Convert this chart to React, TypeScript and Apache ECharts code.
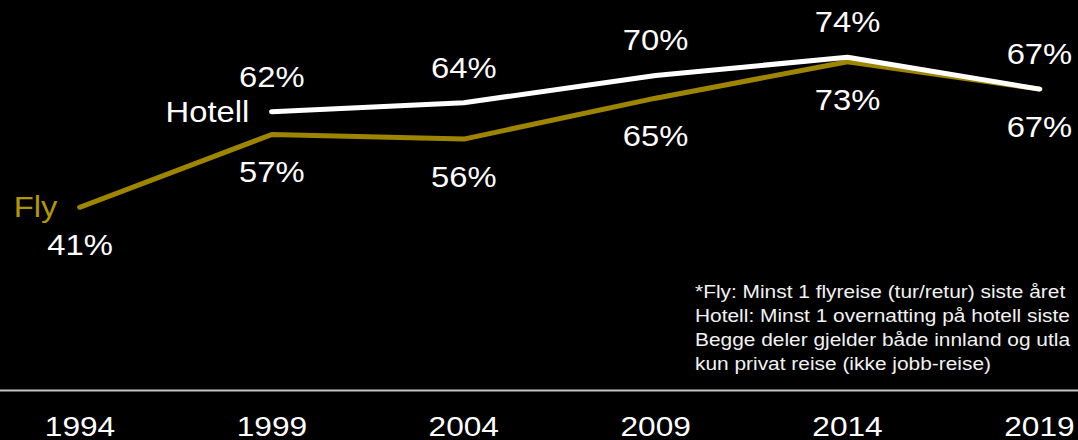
import React, { useEffect, useRef } from "react";
import * as echarts from "echarts";

const years = ["1994", "1999", "2004", "2009", "2014", "2019"];
const fly = [41, 57, 56, 65, 73, 67];
const hotell = [null, 62, 64, 70, 74, 67];
const footnote = [
  "*Fly: Minst 1 flyreise (tur/retur) siste året",
  "Hotell: Minst 1 overnatting på hotell siste",
  "Begge deler gjelder både innland og utla",
  "kun privat reise (ikke jobb-reise)",
];

const GOLD = "#9e8500";
const FONT = '"Liberation Sans", Arial, sans-serif';
// the reference text is horizontally stretched; render narrower and stretch with CSS
const SX = 1.13;
const W = 1078 / SX;
const H = 440;

export default function App() {
  const ref = useRef<HTMLDivElement>(null);
  useEffect(() => {
    if (!ref.current) return;
    const chart = echarts.init(ref.current, null, { renderer: "svg", width: W, height: H });
    const labelBase = {
      show: true,
      position: "inside",
      color: "#ffffff",
      fontSize: 29,
      fontFamily: FONT,
      formatter: (p: any) => `${p.value}%`,
    };
    chart.setOption({
      animation: false,
      backgroundColor: "#000000",
      textStyle: { fontFamily: FONT },
      grid: { left: 80 / SX, right: 36 / SX, top: 0, bottom: 49.5 },
      xAxis: {
        type: "category",
        data: years,
        boundaryGap: false,
        axisLine: { show: false },
        axisTick: { show: false },
        splitLine: { show: false },
        axisLabel: { color: "#ffffff", fontSize: 28, fontFamily: FONT, margin: 22 },
      },
      yAxis: { type: "value", min: 0.8, max: 86.6, show: false, splitLine: { show: false } },
      graphic: [
        {
          type: "line",
          shape: { x1: 0, y1: 390.5, x2: W, y2: 390.5 },
          style: { stroke: "#c4c4c4", lineWidth: 2 },
          silent: true,
        },
        {
          type: "text",
          x: 695 / SX,
          y: 279,
          style: {
            text: footnote.join("\n"),
            fill: "#f2f2f2",
            fontSize: 18.5,
            lineHeight: 24,
            fontFamily: FONT,
          },
          silent: true,
        },
      ],
      series: [
        {
          name: "Fly",
          type: "line",
          data: fly,
          showSymbol: true,
          symbol: "circle",
          symbolSize: 2,
          itemStyle: { color: GOLD },
          lineStyle: { color: GOLD, width: 5, cap: "round", join: "round" },
          label: { ...labelBase, offset: [0, 38] },
          markPoint: {
            symbol: "circle",
            symbolSize: 1,
            itemStyle: { color: "rgba(0,0,0,0)" },
            data: [{ coord: [years[0], fly[0]], value: fly[0] }],
            label: {
              show: true,
              position: "left",
              distance: 19.5,
              color: "#b39700",
              fontSize: 29,
              fontFamily: FONT,
              formatter: (p: any) => p.seriesName,
            },
          },
          z: 2,
        },
        {
          name: "Hotell",
          type: "line",
          data: hotell,
          showSymbol: true,
          symbol: "circle",
          symbolSize: 2,
          itemStyle: { color: "#ffffff" },
          lineStyle: { color: "#ffffff", width: 5, cap: "round", join: "round" },
          label: { ...labelBase, offset: [0, -35] },
          markPoint: {
            symbol: "circle",
            symbolSize: 1,
            itemStyle: { color: "rgba(0,0,0,0)" },
            data: [{ coord: [years[1], hotell[1]], value: hotell[1] }],
            label: {
              show: true,
              position: "left",
              distance: 19.5,
              color: "#ffffff",
              fontSize: 29,
              fontFamily: FONT,
              formatter: (p: any) => p.seriesName,
            },
          },
          z: 3,
        },
      ],
    });
    return () => chart.dispose();
  }, []);
  return (
    <div
      style={{
        position: "fixed",
        left: 0,
        top: 0,
        width: 1078,
        height: H,
        background: "#000",
        overflow: "hidden",
      }}
    >
      <div
        ref={ref}
        style={{
          width: W,
          height: H,
          transform: `scaleX(${SX})`,
          transformOrigin: "0 0",
        }}
      />
    </div>
  );
}
